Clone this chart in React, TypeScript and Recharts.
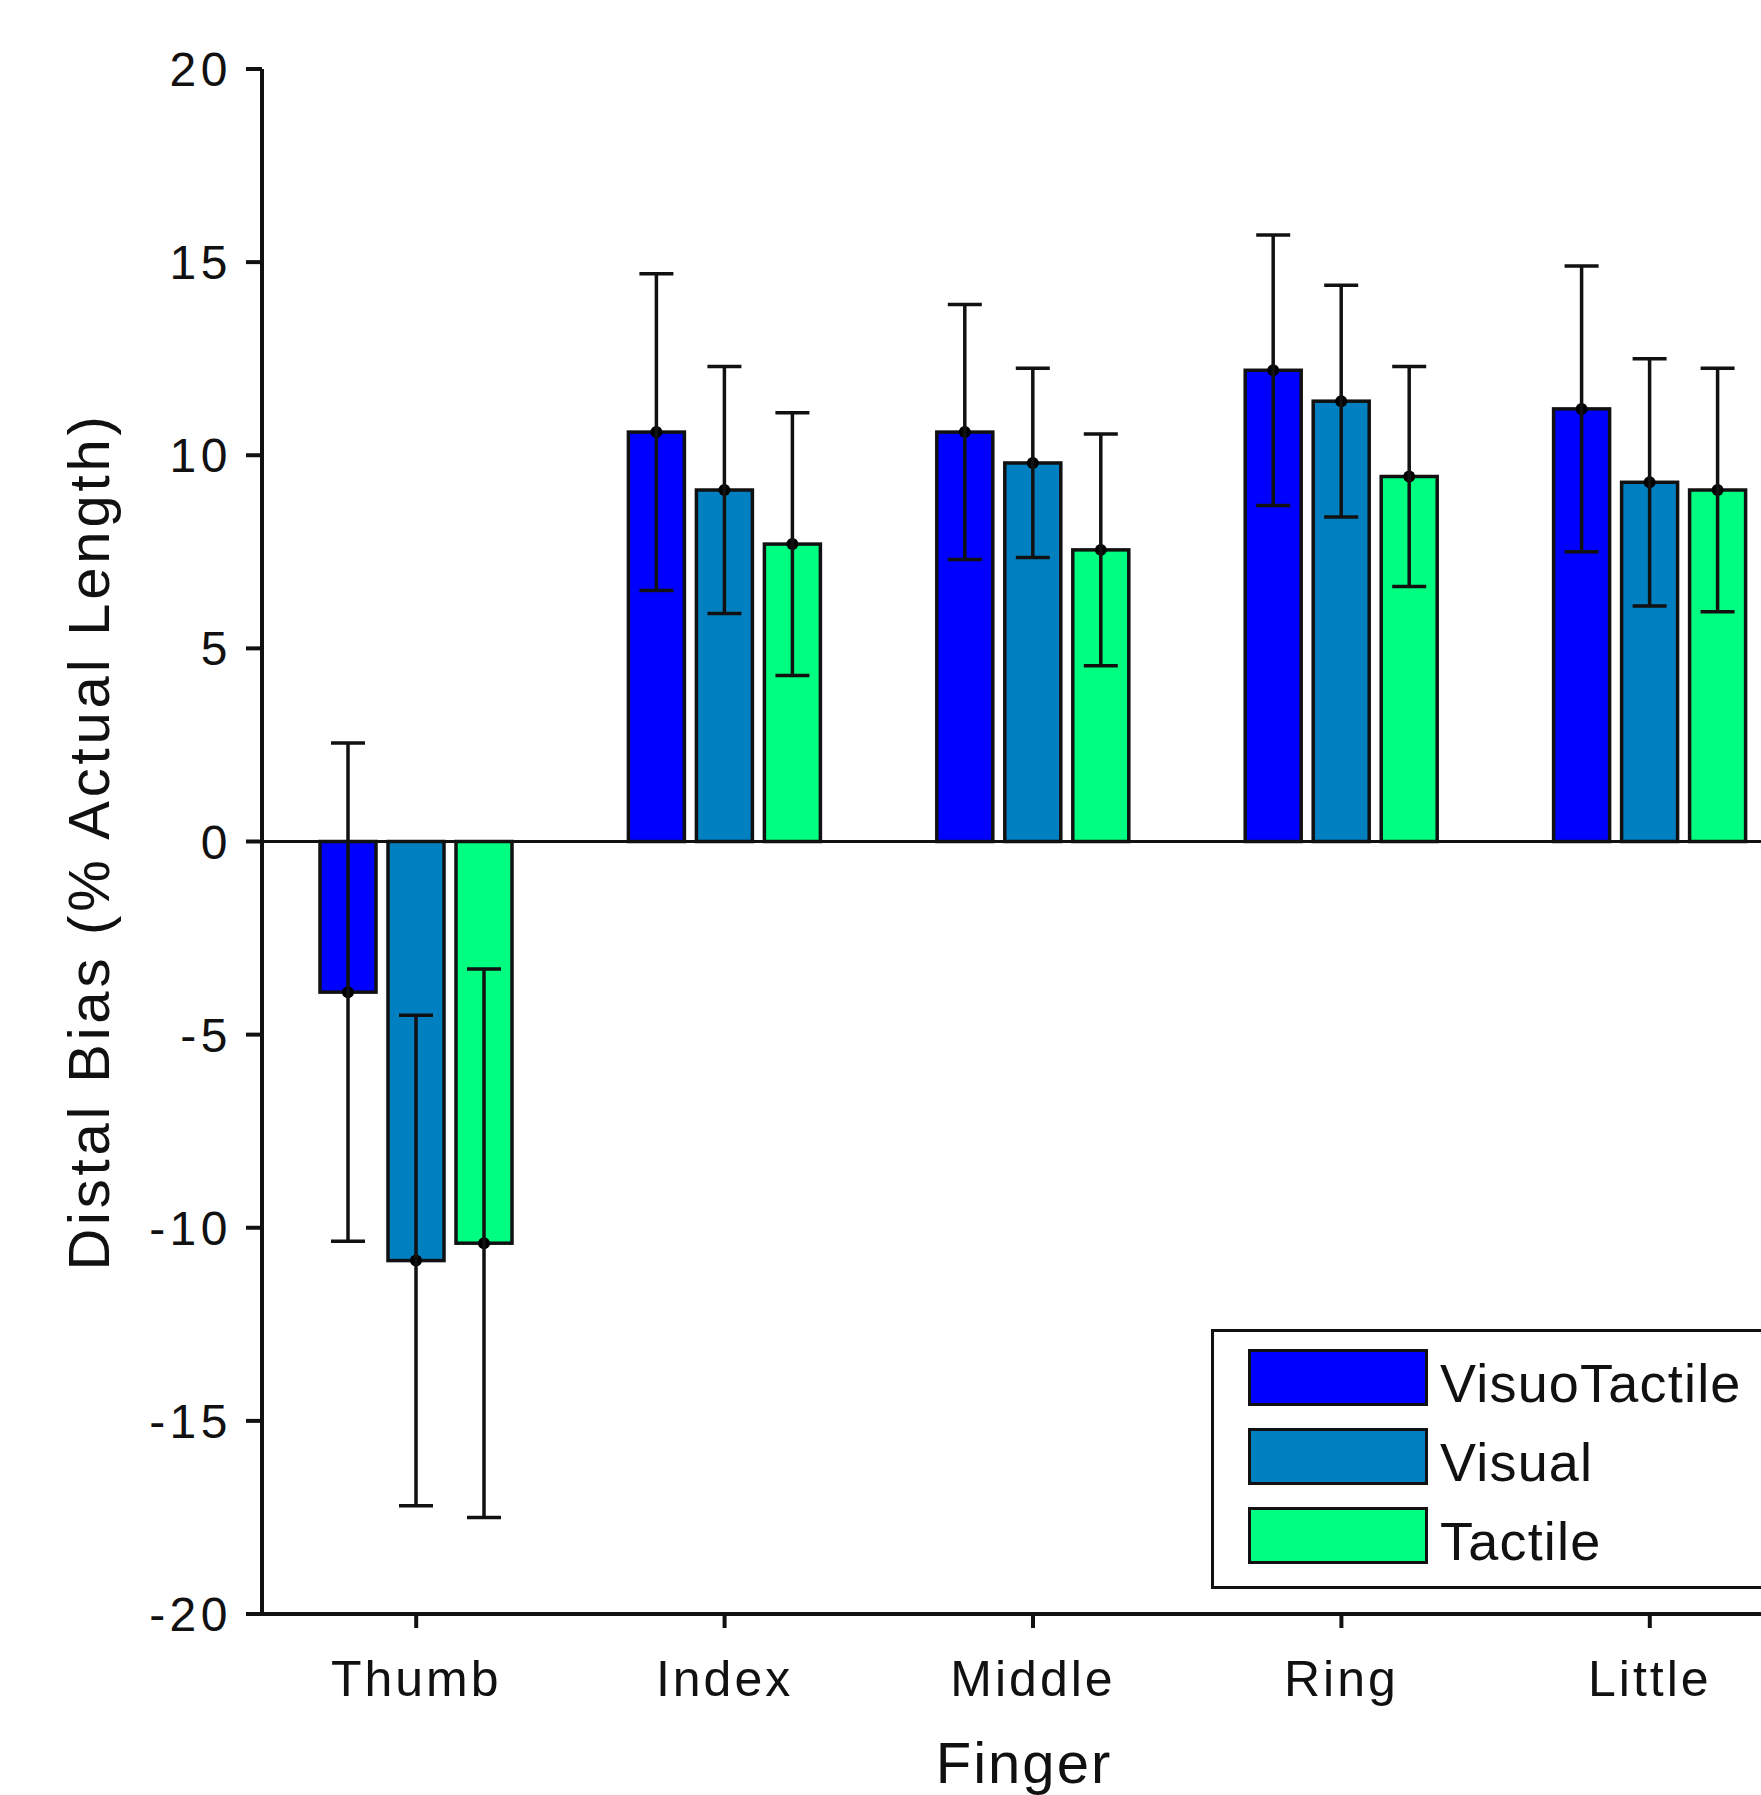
import React from "react"
import { Bar, BarChart, ErrorBar, Label, Legend, ReferenceLine, XAxis, YAxis } from "recharts"

const fingers = ["Thumb", "Index", "Middle", "Ring", "Little"]
const visuoTactile = [-3.9, 10.6, 10.6, 12.2, 11.2]
const visuoTactileErr = [6.45, 4.1, 3.3, 3.5, 3.7]
const visual = [-10.85, 9.1, 9.8, 11.4, 9.3]
const visualErr = [6.35, 3.2, 2.45, 3.0, 3.2]
const tactile = [-10.4, 7.7, 7.55, 9.45, 9.1]
const tactileErr = [7.1, 3.4, 3.0, 2.85, 3.15]
const yTicks = [-20, -15, -10, -5, 0, 5, 10, 15, 20]

const series = [
    { key: "VisuoTactile", color: "#0000ff" },
    { key: "Visual", color: "#0080c0" },
    { key: "Tactile", color: "#00ff80" },
]

const data = fingers.map((name, i) => ({
    name,
    VisuoTactile: visuoTactile[i],
    VisuoTactileErr: visuoTactileErr[i],
    Visual: visual[i],
    VisualErr: visualErr[i],
    Tactile: tactile[i],
    TactileErr: tactileErr[i],
}))

const font = "'Liberation Sans', Arial, sans-serif"

const BarWithDot = (props: any) => {
    const { x, y, width, height, fill } = props
    const top = Math.min(y, y + height)
    const h = Math.abs(height)
    return (
        <g>
            <rect x={x} y={top} width={width} height={h} fill={fill} stroke="#111" strokeWidth={3.5} />
            <circle cx={x + width / 2} cy={y} r={6} fill="#000" />
        </g>
    )
}

const renderLegend = () => (
    <div style={{ border: "3.5px solid #111", background: "#fff", width: 600, boxSizing: "border-box", paddingTop: 17, paddingBottom: 0 }}>
        {series.map(s => (
            <div key={s.key} style={{ display: "flex", alignItems: "flex-start", height: 79 }}>
                <div style={{ marginLeft: 34, width: 180, height: 57, boxSizing: "border-box", border: "3.5px solid #111", background: s.color }} />
                <div style={{ marginLeft: 12, fontFamily: font, fontSize: 54, letterSpacing: 1.2, color: "#111", lineHeight: "57px", position: "relative", top: 6 }}>{s.key}</div>
            </div>
        ))}
    </div>
)

const App = () => {
    return (
        <div style={{ position: "fixed", left: 0, top: 0, width: 1761, height: 1795, overflow: "hidden", background: "#fff" }}>
            <BarChart
                width={1804}
                height={1795}
                data={data}
                margin={{ top: 69, right: 0, bottom: 0, left: 0 }}
                barSize={56}
                barGap={12}
            >
                <XAxis
                    dataKey="name"
                    height={181}
                    axisLine={{ stroke: "#111", strokeWidth: 4 }}
                    tickLine={{ stroke: "#111", strokeWidth: 4 }}
                    tickSize={14}
                    tickMargin={32}
                    tick={{ fill: "#111", fontSize: 50, fontFamily: font, letterSpacing: 3 }}
                >
                    <Label
                        content={({ viewBox }: any) => (
                            <text x={viewBox.x + viewBox.width / 2 - 9} y={viewBox.y + viewBox.height - 12} textAnchor="middle" fill="#111" fontSize={58} fontFamily={font} letterSpacing={2}>
                                Finger
                            </text>
                        )}
                    />
                </XAxis>
                <YAxis
                    width={262}
                    domain={[-20, 20]}
                    ticks={yTicks}
                    interval={0}
                    axisLine={{ stroke: "#111", strokeWidth: 4 }}
                    tickLine={{ stroke: "#111", strokeWidth: 4 }}
                    tickSize={16}
                    tickMargin={14}
                    tick={{ fill: "#111", fontSize: 48, fontFamily: font, letterSpacing: 4.5 }}
                >
                    <Label
                        content={({ viewBox }: any) => {
                            const cx = viewBox.x + 88
                            const cy = viewBox.y + viewBox.height / 2
                            return (
                                <text x={cx} y={cy} transform={`rotate(-90, ${cx}, ${cy})`} textAnchor="middle" dominantBaseline="central" fill="#111" fontSize={58} fontFamily={font} letterSpacing={3.8}>
                                    Distal Bias (% Actual Length)
                                </text>
                            )
                        }}
                    />
                </YAxis>
                <ReferenceLine y={0} stroke="#111" strokeWidth={3} />
                {series.map(s => (
                    <Bar key={s.key} dataKey={s.key} fill={s.color} shape={BarWithDot} isAnimationActive={false}>
                        <ErrorBar dataKey={s.key + "Err"} width={17} stroke="#111" strokeWidth={3.5} isAnimationActive={false} />
                    </Bar>
                ))}
                <Legend
                    layout="vertical"
                    verticalAlign="middle"
                    align="center"
                    content={renderLegend}
                    wrapperStyle={{ left: 1211, top: 1329, width: 600, height: "auto" }}
                />
            </BarChart>
        </div>
    )
}

export default App
